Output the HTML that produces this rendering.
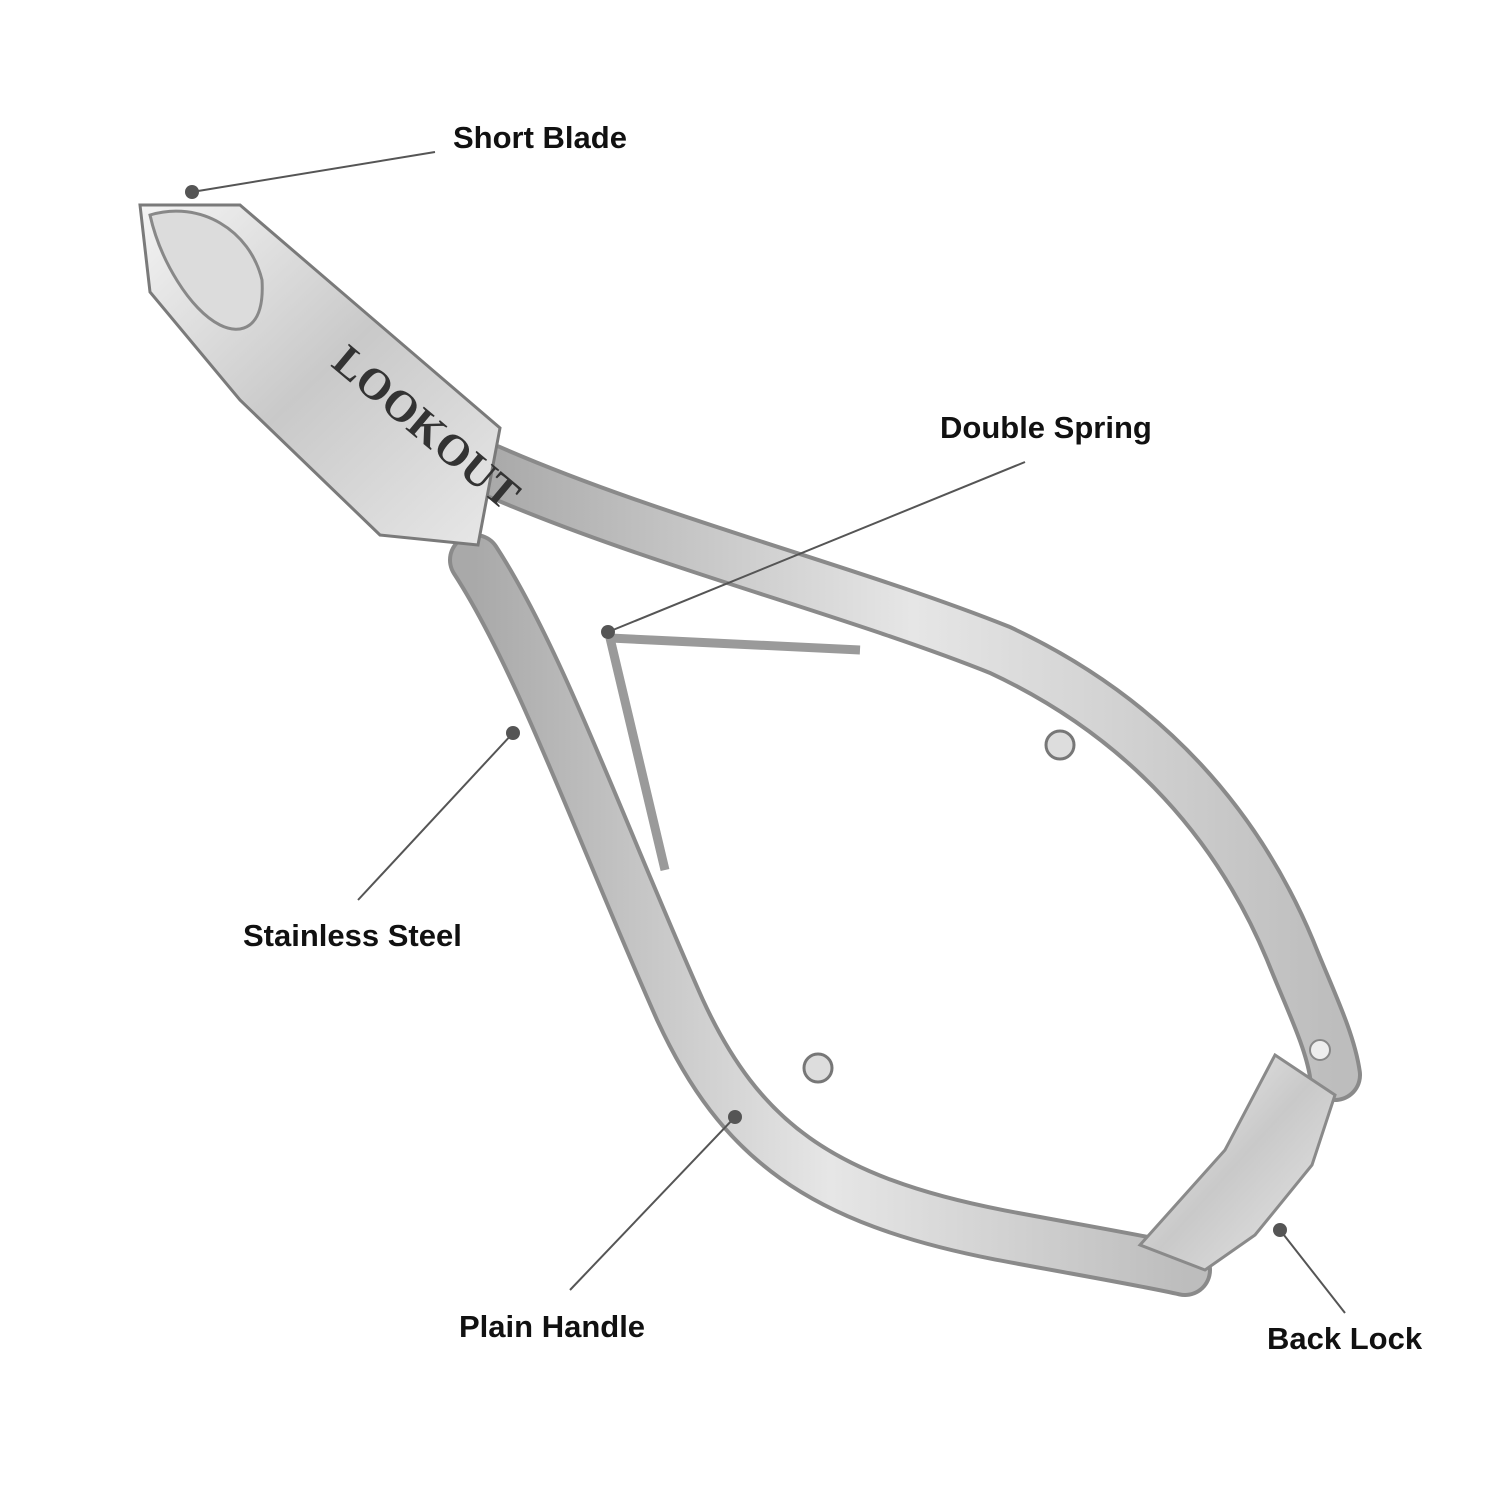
<!DOCTYPE html>
<html><head><meta charset="utf-8"><style>
html,body{margin:0;padding:0;background:#fff;}
svg{display:block}
text{font-family:"Liberation Sans",Arial,sans-serif;font-weight:bold;font-size:31px;fill:#111;}
</style></head><body>
<svg width="1500" height="1500" viewBox="0 0 1500 1500" xmlns="http://www.w3.org/2000/svg">
<defs>
<linearGradient id="g1" x1="0" y1="0" x2="1" y2="1">
<stop offset="0" stop-color="#f4f4f4"/><stop offset="0.5" stop-color="#c9c9c9"/><stop offset="1" stop-color="#e8e8e8"/>
</linearGradient>
<linearGradient id="g2" x1="0" y1="0" x2="1" y2="0">
<stop offset="0" stop-color="#a9a9a9"/><stop offset="0.5" stop-color="#e6e6e6"/><stop offset="1" stop-color="#bdbdbd"/>
</linearGradient>
</defs>
<!-- springs -->
<line x1="610" y1="638" x2="860" y2="650" stroke="#9a9a9a" stroke-width="9"/>
<line x1="610" y1="638" x2="665" y2="870" stroke="#9a9a9a" stroke-width="9"/>
<!-- upper handle -->
<path d="M490 470 C650 540 850 590 1000 650 C1150 720 1240 830 1290 950 C1310 1000 1330 1040 1335 1075" fill="none" stroke="#8a8a8a" stroke-width="54" stroke-linecap="round"/>
<path d="M490 470 C650 540 850 590 1000 650 C1150 720 1240 830 1290 950 C1310 1000 1330 1040 1335 1075" fill="none" stroke="url(#g2)" stroke-width="46" stroke-linecap="round"/>
<!-- lower handle -->
<path d="M475 560 C540 660 600 830 680 1010 C740 1140 820 1200 1000 1235 C1080 1250 1150 1262 1185 1270" fill="none" stroke="#8a8a8a" stroke-width="54" stroke-linecap="round"/>
<path d="M475 560 C540 660 600 830 680 1010 C740 1140 820 1200 1000 1235 C1080 1250 1150 1262 1185 1270" fill="none" stroke="url(#g2)" stroke-width="46" stroke-linecap="round"/>
<!-- back lock -->
<polygon points="1275,1055 1335,1095 1312,1165 1255,1235 1205,1270 1140,1245 1225,1150" fill="url(#g1)" stroke="#8a8a8a" stroke-width="3"/>
<circle cx="1320" cy="1050" r="10" fill="#eee" stroke="#888" stroke-width="2"/>
<!-- pins -->
<circle cx="1060" cy="745" r="14" fill="#ddd" stroke="#777" stroke-width="3"/>
<circle cx="818" cy="1068" r="14" fill="#ddd" stroke="#777" stroke-width="3"/>
<!-- head -->
<polygon points="140,205 240,205 500,428 478,545 380,535 240,400 150,292" fill="url(#g1)" stroke="#7a7a7a" stroke-width="3"/>
<path d="M150 215 C200 200 250 230 262 280 C265 330 240 335 220 325 C190 310 160 260 150 215 Z" fill="#dcdcdc" stroke="#888" stroke-width="3"/>
<text x="310" y="380" transform="rotate(40 340 400)" style="font-size:44px;font-family:'Liberation Serif',serif;fill:#333">LOOKOUT</text>
<!-- labels -->
<g stroke="#555" stroke-width="2">
<line x1="192" y1="192" x2="435" y2="152"/>
<line x1="608" y1="632" x2="1025" y2="462"/>
<line x1="513" y1="733" x2="358" y2="900"/>
<line x1="735" y1="1117" x2="570" y2="1290"/>
<line x1="1280" y1="1230" x2="1345" y2="1313"/>
</g>
<g fill="#555">
<circle cx="192" cy="192" r="7"/><circle cx="608" cy="632" r="7"/><circle cx="513" cy="733" r="7"/>
<circle cx="735" cy="1117" r="7"/><circle cx="1280" cy="1230" r="7"/>
</g>
<text x="453" y="148">Short Blade</text>
<text x="940" y="438">Double Spring</text>
<text x="243" y="946">Stainless Steel</text>
<text x="459" y="1337">Plain Handle</text>
<text x="1267" y="1349">Back Lock</text>
</svg>
</body></html>
